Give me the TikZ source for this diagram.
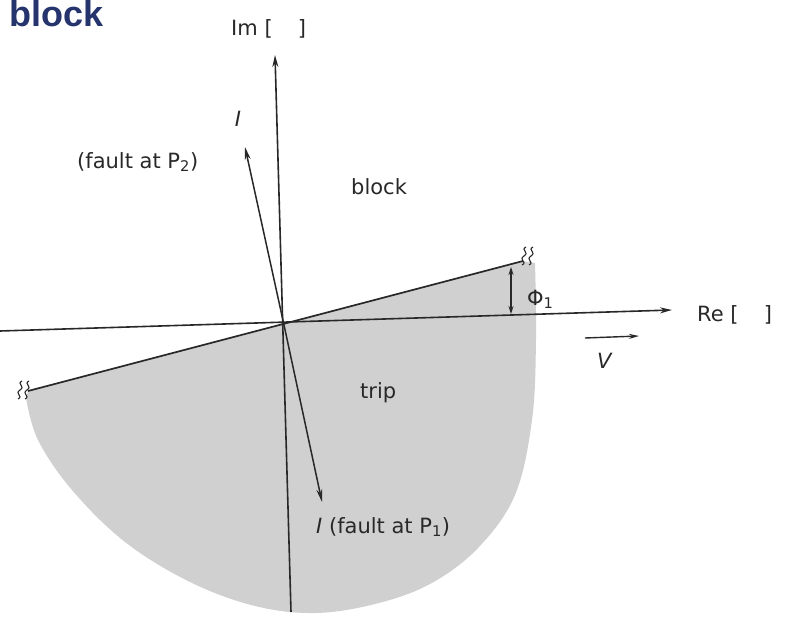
\documentclass[tikz,border=0pt]{standalone}
\usepackage{fontspec}
\setmainfont{DejaVu Sans}
\newfontfamily\titlefont{Liberation Sans}
\usetikzlibrary{arrows.meta,calc}
\definecolor{ink}{RGB}{40,40,40}
\definecolor{navy}{RGB}{38,52,110}
\definecolor{tripgray}{RGB}{208,208,208}
\tikzset{
  axis/.style={draw=ink,line width=1.6pt,-{Stealth[length=12pt,width=6pt]}},
  phasor/.style={draw=ink,line width=1.5pt,-{Stealth[length=13pt,width=6pt]}},
  bound/.style={draw=ink,line width=1.7pt},
  lbl/.style={text=ink,font=\fontsize{21}{23}\selectfont,inner sep=0pt},
  brk/.style={draw=ink,line width=1.1pt}
}
\begin{document}
\begin{tikzpicture}[x=1pt,y=-1pt]
\useasboundingbox (0,0) rectangle (787,623);
% shaded trip region
\fill[tripgray] plot[smooth,tension=0.6] coordinates {(535,263) (536,340) (532,420) (515,495) (478,548) (430,584) (375,604) (315,613) (255,606) (190,582) (125,542) (72,490) (38,440) (26,398)}
  -- (28,391) -- (523,261) -- cycle;
\coordinate (O) at (284,325);
\coordinate (reL) at (0,331);
\coordinate (reR) at (672,310);
\coordinate (imT) at (275,55);
\coordinate (imB) at (291,612);
\coordinate (bL) at (28,391);
\coordinate (bR) at (523,261);
\coordinate (p2) at (245,147);
\coordinate (p1) at (322,502);
\draw[axis] (reL) -- (reR);
\draw[axis] (imB) -- (imT);
\draw[bound] (bL) -- (bR);
\draw[phasor] (O) -- (p2);
\draw[phasor] (O) -- (p1);
% break marks
\foreach \dx in {0,7}{
  \draw[brk] ($(bR)+(\dx,0)$) ++(3,-14) .. controls +(-6,3) and +(6,-4) .. ++(-2,9)
     .. controls +(-6,4) and +(6,-3) .. ++(-2,9);
  \draw[brk] ($(bL)+(\dx-9,0)$) ++(3,-10) .. controls +(-6,3) and +(6,-4) .. ++(-2,9)
     .. controls +(-6,4) and +(6,-3) .. ++(-2,9);
}
% angle Phi1
\coordinate (phT) at (511,267);
\coordinate (phB) at (511,314);
\draw[draw=ink,line width=1.2pt,{Stealth[length=8pt,width=5pt]}-{Stealth[length=8pt,width=5pt]}] (phT) -- (phB);
% V arrow
\coordinate (vA) at (585,338);
\coordinate (vB) at (639,336);
\draw[draw=ink,line width=1.4pt,-{Stealth[length=10pt,width=5pt]}] (vA) -- (vB);
% labels
\node[anchor=base west,text=navy,font=\titlefont\fontsize{36}{38}\selectfont\bfseries,inner sep=0pt] (title) at (9,27) {block};
\node[lbl,anchor=base west] (im) at (231,36) {Im [\hspace{1.2em}]};
\node[lbl,anchor=base west] (re) at (697,321) {Re [\hspace{1.2em}]};
\node[lbl,anchor=base] (i2) at (238,127) {\textit{I}};
\node[lbl,anchor=base west] (f2) at (77,168) {(fault at P\textsubscript{2})};
\node[lbl,anchor=base west] (blk) at (351,194) {block};
\node[lbl,anchor=base west] (trp) at (360,398) {trip};
\node[lbl,anchor=base west] (phi) at (527,305) {Φ\textsubscript{1}};
\node[lbl,anchor=base] (v) at (605,368) {\textit{V}};
\node[lbl,anchor=base west] (f1) at (316,533) {\textit{I} (fault at P\textsubscript{1})};
\end{tikzpicture}
\end{document}
